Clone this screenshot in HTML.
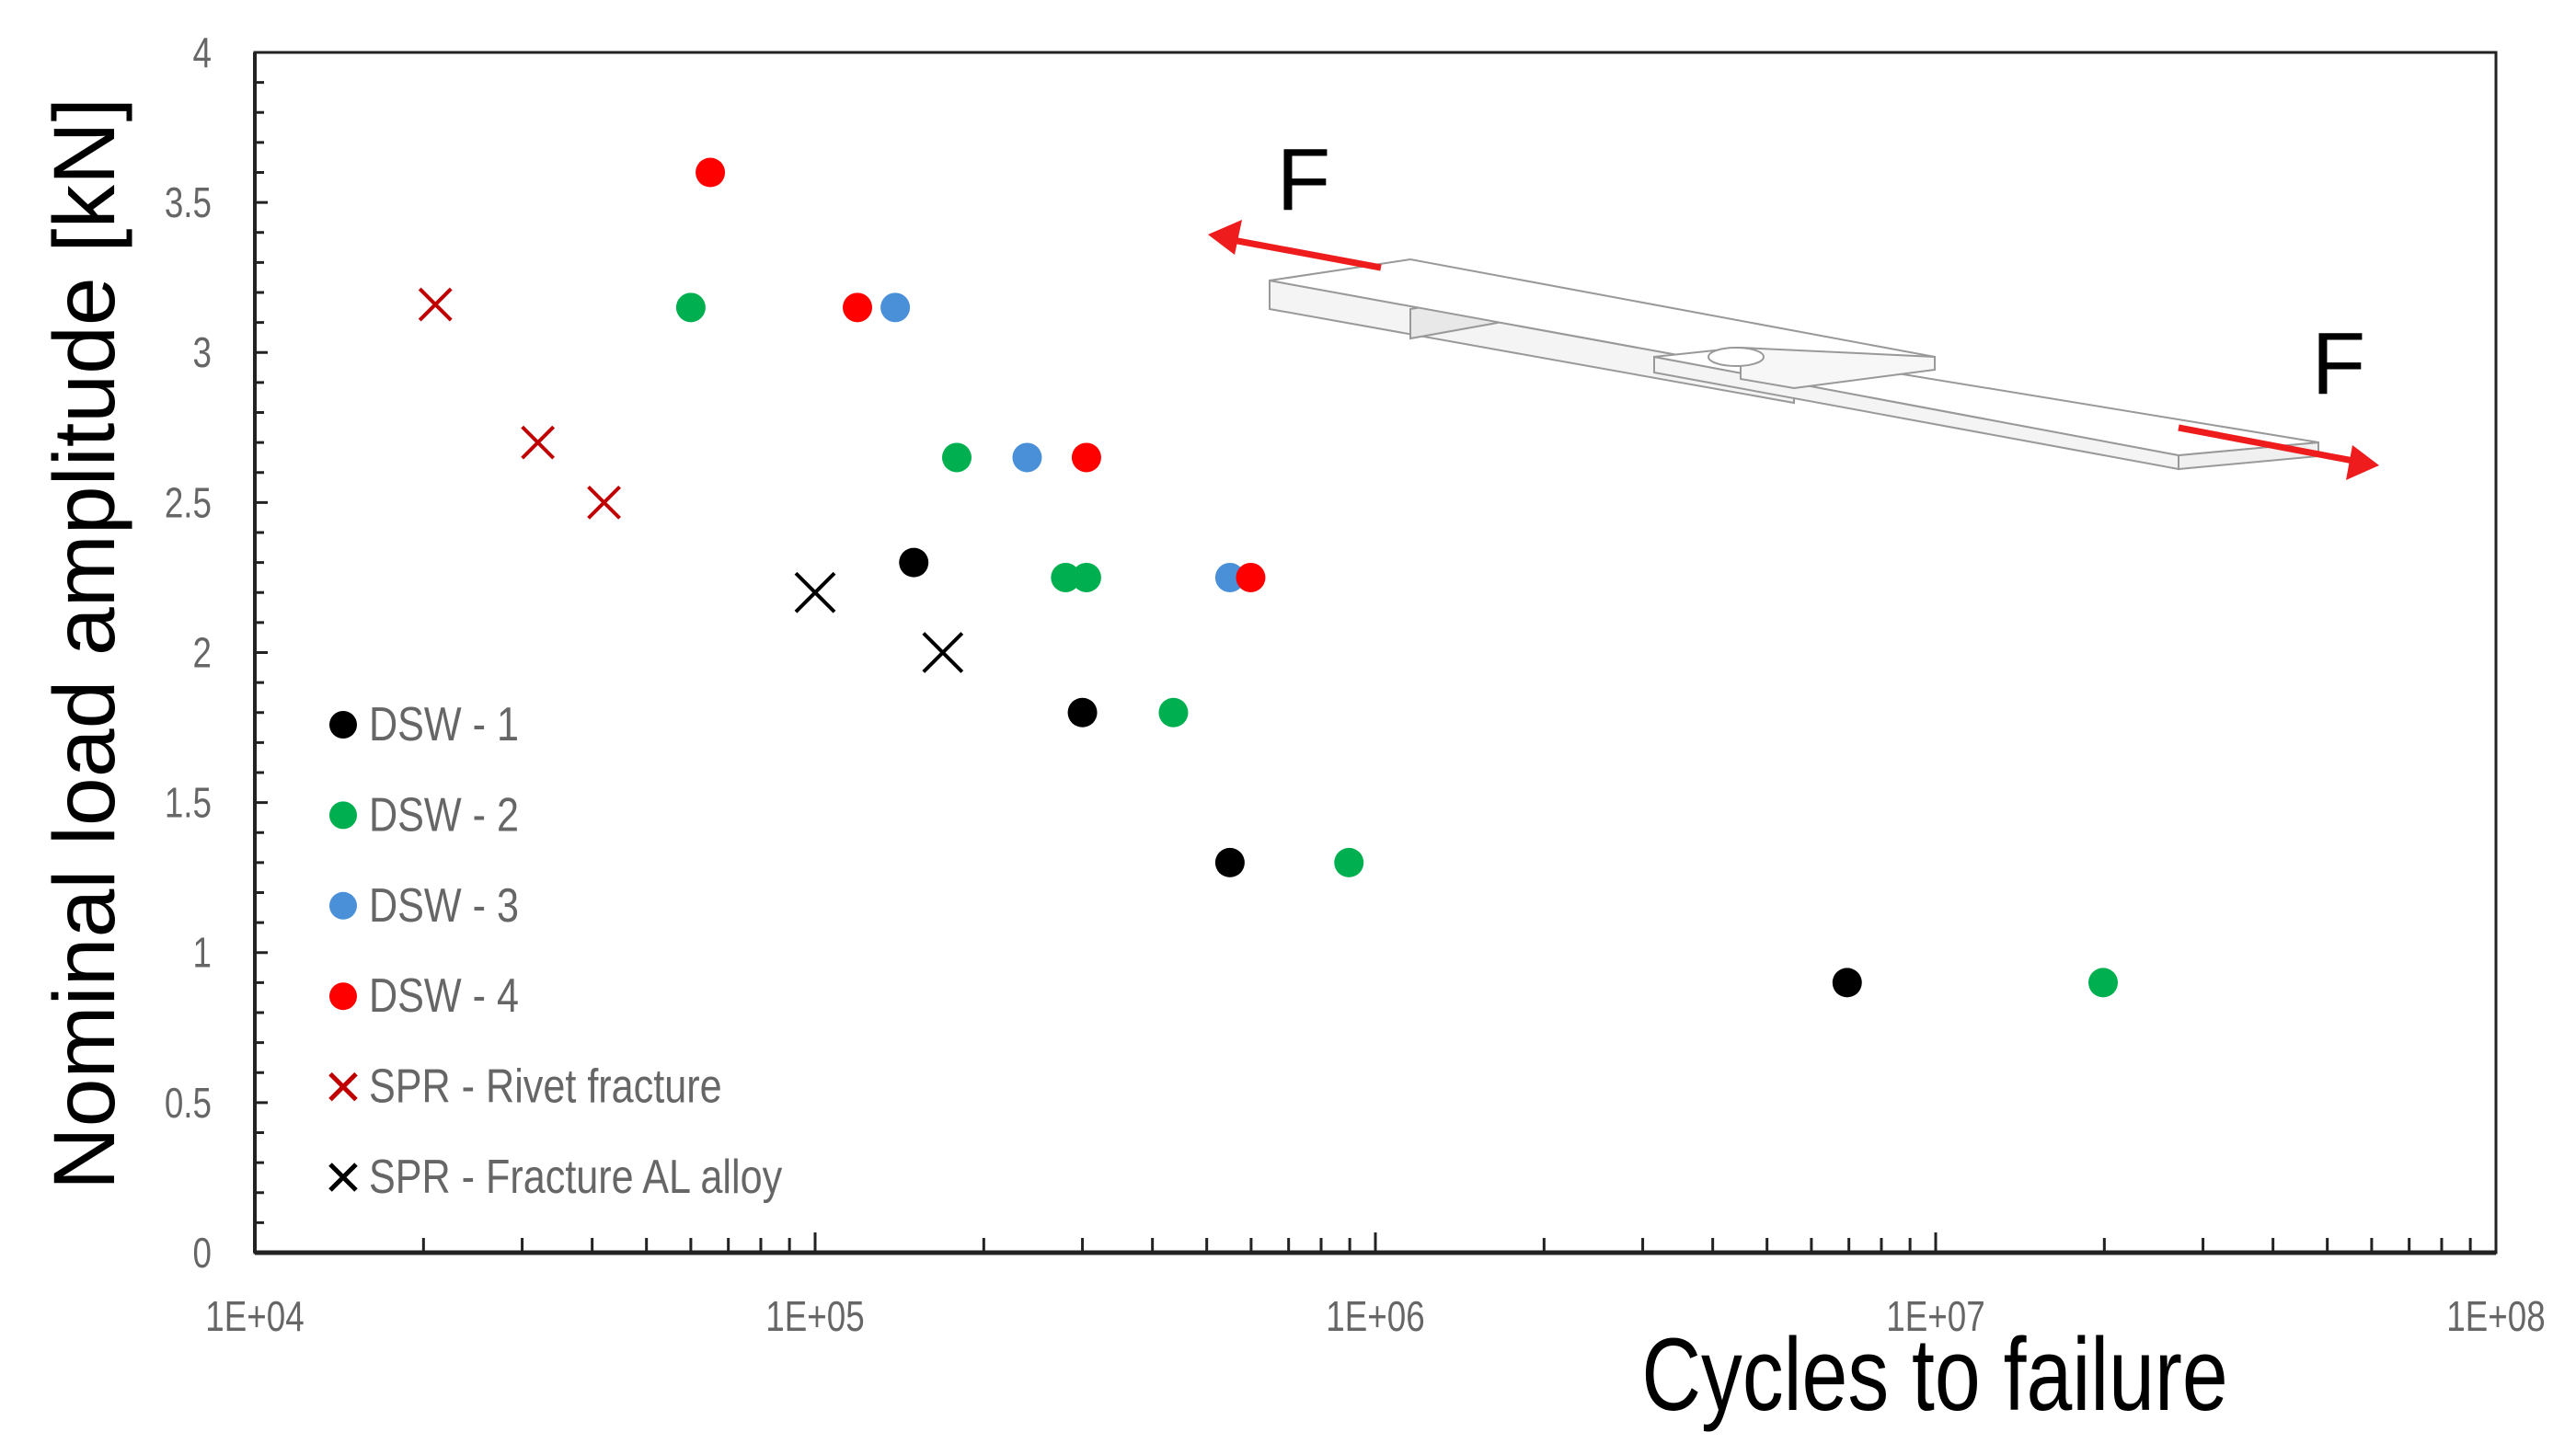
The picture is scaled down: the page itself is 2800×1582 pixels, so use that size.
<!DOCTYPE html>
<html><head><meta charset="utf-8"><style>
html,body{margin:0;padding:0;background:#fff;}
svg{display:block;}
text{font-family:"Liberation Sans",sans-serif;}
</style></head><body>
<svg id="chart" width="2800" height="1582" viewBox="0 0 2800 1582" xmlns="http://www.w3.org/2000/svg">
<g id="specimen" stroke="#999" stroke-width="2" fill="#fff">
  <polygon points="1380,305 1950,409 1950,438 1380,336" fill="#f4f4f4"/>
  <polygon points="1533,336 1633,320 1633,350 1533,368" fill="#e8e8e8"/>
  <polygon points="1380,305 1533,282 2103,388 1950,409"/>
  <polygon points="1798,388 2368,495 2368,510 1798,405" fill="#f4f4f4"/>
  <polygon points="2368,495 2520,481 2520,496 2368,510" fill="#f0f0f0"/>
  <polygon points="1798,388 1892,378 2520,481 2368,495"/>
  <polygon points="1892,378 2103,388 2103,402 1950,422 1892,412" fill="#f7f7f7"/>
  <ellipse cx="1887" cy="388" rx="30" ry="10" fill="#fff"/>
</g>
<g id="arrows">
  <line x1="1501" y1="291" x2="1340" y2="261" stroke="#ee1c1c" stroke-width="7"/>
  <polygon points="1313,255 1350,239 1342,277" fill="#ee1c1c"/>
  <line x1="2368" y1="465" x2="2558" y2="501" stroke="#ee1c1c" stroke-width="7"/>
  <polygon points="2586,506 2550,522 2557,484" fill="#ee1c1c"/>
  <text x="1417" y="228" font-size="96" text-anchor="middle" fill="#000">F</text>
  <text x="2542" y="428" font-size="96" text-anchor="middle" fill="#000">F</text>
</g>
<g id="axes"></g>
<g id="marks"></g>
<g id="legend"></g>
</svg>
<script>
const dsw1N=[1.5e5,3.0e5,5.5e5,6.95e6];
const dsw1L=[2.3,1.8,1.3,0.9];
const dsw2N=[6.0e4,1.79e5,2.8e5,3.05e5,4.36e5,8.97e5,1.99e7];
const dsw2L=[3.15,2.65,2.25,2.25,1.8,1.3,0.9];
const dsw3N=[1.39e5,2.39e5,5.5e5];
const dsw3L=[3.15,2.65,2.25];
const dsw4N=[6.5e4,1.19e5,3.05e5,5.99e5];
const dsw4L=[3.6,3.15,2.65,2.25];
const sprRivetN=[2.1e4,3.2e4,4.2e4];
const sprRivetL=[3.16,2.7,2.5];
const sprAlN=[1.0e5,1.69e5];
const sprAlL=[2.2,2.0];
const xTickLabels=["1E+04","1E+05","1E+06","1E+07","1E+08"];
const yTickLabels=["0","0.5","1","1.5","2","2.5","3","3.5","4"];
const legendLabels=["DSW - 1","DSW - 2","DSW - 3","DSW - 4","SPR - Rivet fracture","SPR - Fracture AL alloy"];

const NS="http://www.w3.org/2000/svg";
const L=277,R=2713,T=57,B=1362;
const xs=n=>L+(Math.log10(n)-4)/4*(R-L);
const ys=v=>B-v/4*(B-T);
function mk(tag,attrs,parent){const e=document.createElementNS(NS,tag);for(const k in attrs)e.setAttribute(k,attrs[k]);parent.appendChild(e);return e;}
const axes=document.getElementById('axes'),marks=document.getElementById('marks'),leg=document.getElementById('legend');

let frame=mk('rect',{x:L,y:T,width:R-L,height:B-T,fill:'none',stroke:'#222','stroke-width':3},axes);


let xb=mk('line',{x1:L,y1:B,x2:R,y2:B,stroke:'#222','stroke-width':5},axes);


let yb=mk('line',{x1:L,y1:T,x2:L,y2:B,stroke:'#222','stroke-width':4},axes);



for(let i=0;i<=40;i++){const y=ys(i/10);const len=i%5===0?14:10;
 let t=mk('line',{x1:L,y1:y,x2:L+len,y2:y,stroke:'#222','stroke-width':3},axes);
 
 }
yTickLabels.forEach(s=>{const v=parseFloat(s);
 let t=mk('text',{x:230,y:ys(v)+16,'font-size':46,'text-anchor':'end',fill:'#666',transform:`translate(230 0) scale(0.8 1) translate(-230 0)`},axes);
 t.textContent=s;
 
 });
for(let d=4;d<8;d++){for(let m=2;m<=10;m++){const x=xs(m*Math.pow(10,d));
 let t=mk('line',{x1:x,y1:B,x2:x,y2:B-(m===10?22:16),stroke:'#222','stroke-width':3},axes);
 
 }}
xTickLabels.forEach(s=>{const x=xs(parseFloat(s));
 let t=mk('text',{x:x,y:1447,'font-size':46,'text-anchor':'middle',fill:'#666',transform:`translate(${x} 0) scale(0.8 1) translate(${-x} 0)`},axes);
 t.textContent=s;
 
 });
let yt=mk('text',{x:0,y:0,'font-size':95,'text-anchor':'middle',fill:'#000',transform:'translate(124 700) rotate(-90)'},axes);
yt.textContent='Nominal load amplitude [kN]';


let xt=mk('text',{x:2103,y:1533,'font-size':112,'text-anchor':'middle',fill:'#000',transform:'translate(2103 0) scale(0.8 1) translate(-2103 0)'},axes);
xt.textContent='Cycles to failure';



function dots(N,Lv,color,name){N.forEach((n,i)=>{
 let c=mk('circle',{cx:xs(n),cy:ys(Lv[i]),r:16,fill:color},marks);
 
 });}
function crosses(N,Lv,color,h,w,name){N.forEach((n,i)=>{const x=xs(n),y=ys(Lv[i]);
 let p=mk('path',{d:`M${x-h} ${y-h}L${x+h} ${y+h}M${x+h} ${y-h}L${x-h} ${y+h}`,stroke:color,'stroke-width':w,fill:'none'},marks);
 
 });}
dots(dsw2N,dsw2L,'#00b050','dsw2-point');
dots(dsw3N,dsw3L,'#4a90d9','dsw3-point');
dots(dsw4N,dsw4L,'#ff0000','dsw4-point');
dots(dsw1N,dsw1L,'#000','dsw1-point');
crosses(sprRivetN,sprRivetL,'#c00000',17,4,'spr-rivet-point');
crosses(sprAlN,sprAlL,'#000',21,4,'spr-al-point');

const legColors=['#000','#00b050','#4a90d9','#ff0000','#c00000','#000'];
legendLabels.forEach((s,i)=>{const y=788+i*98.4;
 let g=mk('g',{},leg);
 
 
 if(i<4){mk('circle',{cx:373,cy:y,r:15,fill:legColors[i]},g);}
 else{mk('path',{d:`M359 ${y-14}L387 ${y+14}M387 ${y-14}L359 ${y+14}`,stroke:legColors[i],'stroke-width':5,fill:'none'},g);}
 let t=mk('text',{x:401,y:y+17,'font-size':52,fill:'#666',transform:`translate(401 0) scale(0.83 1) translate(-401 0)`},g);
 t.textContent=s;});
</script>
</body></html>
